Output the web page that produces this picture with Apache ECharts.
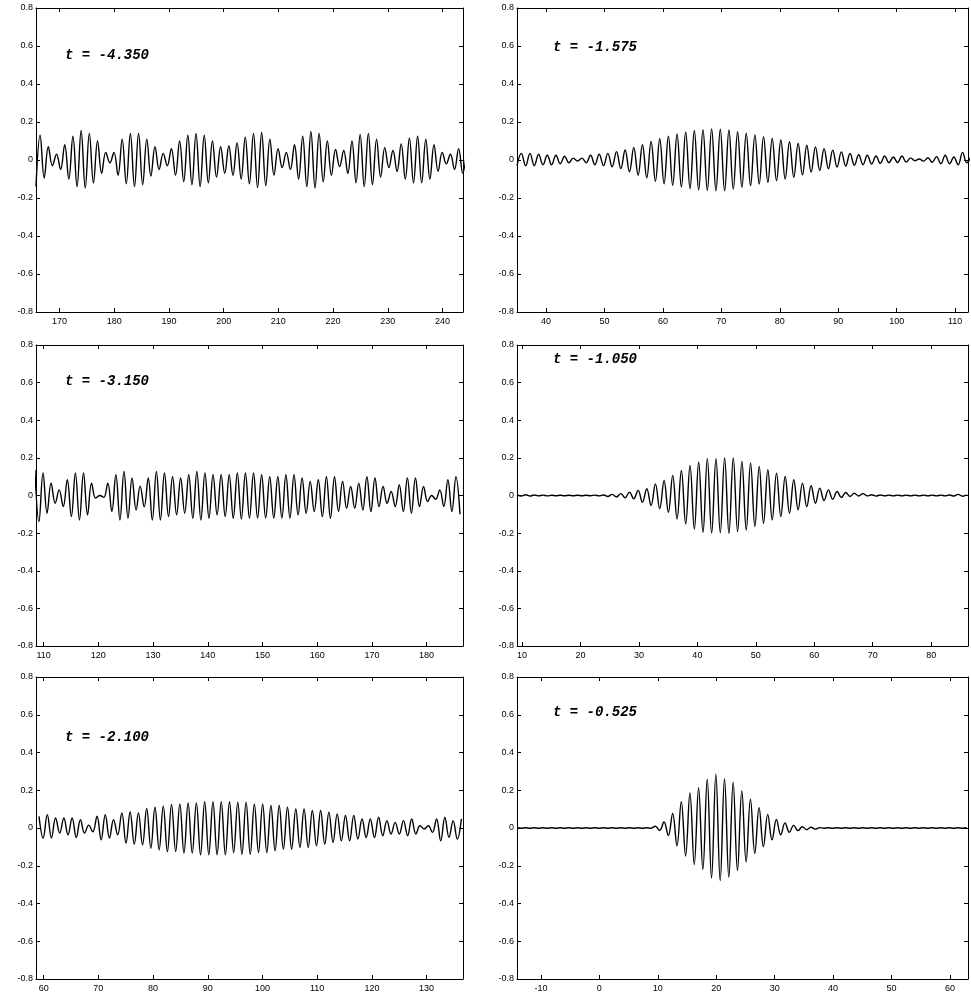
<!DOCTYPE html>
<html><head><meta charset="utf-8">
<script src="https://cdn.jsdelivr.net/npm/echarts@6/dist/echarts.min.js"></script>
<style>html,body{margin:0;padding:0;background:#fff}#c{width:971px;height:993px}</style>
</head><body><div id="c"></div>
<script>
// ---------- tick labels ----------
const yTicks = [-0.8, -0.6, -0.4, -0.2, 0, 0.2, 0.4, 0.6, 0.8];
const yTickLabels = ['-0.8', '-0.6', '-0.4', '-0.2', '0', '0.2', '0.4', '0.6', '0.8'];
const xTicksA = [170, 180, 190, 200, 210, 220, 230, 240];
const xTicksB = [110, 120, 130, 140, 150, 160, 170, 180];
const xTicksC = [60, 70, 80, 90, 100, 110, 120, 130];
const xTicksD = [40, 50, 60, 70, 80, 90, 100, 110];
const xTicksE = [10, 20, 30, 40, 50, 60, 70, 80];
const xTicksF = [-10, 0, 10, 20, 30, 40, 50, 60];

// ---------- panel titles ----------
const titles = ['t = -4.350', 't = -3.150', 't = -2.100', 't = -1.575', 't = -1.050', 't = -0.525'];

// ---------- axis ranges ----------
const xRangeA = [165.7, 243.75];
const xRangeB = [108.6, 186.65];
const xRangeC = [58.6, 136.65];
const xRangeD = [35.04, 112.2];
const xRangeE = [9.14, 86.3];
const xRangeF = [-14.1, 63.1];

// ---------- wave extrema (successive crest / trough values) ----------
const startA = 165.7, stepA = 0.75;
const waveA = [-0.14,0.13,-0.095,0.07,-0.03,0.03,-0.05,0.08,-0.10,0.125,-0.14,0.155,-0.147,0.14,-0.12,0.10,-0.07,0.04,-0.015,0.04,
 -0.08,0.11,-0.125,0.14,-0.14,0.14,-0.13,0.11,-0.085,0.07,-0.05,0.035,-0.03,0.06,-0.08,0.10,-0.115,0.13,-0.13,0.14,
 -0.14,0.13,-0.12,0.10,-0.09,0.07,-0.07,0.075,-0.08,0.09,-0.10,0.12,-0.125,0.14,-0.145,0.145,-0.135,0.11,-0.08,0.06,
 -0.04,0.04,-0.05,0.08,-0.10,0.125,-0.14,0.15,-0.148,0.14,-0.115,0.10,-0.08,0.055,-0.035,0.05,-0.07,0.10,-0.12,0.135,
 -0.14,0.14,-0.13,0.11,-0.09,0.065,-0.04,0.05,-0.06,0.085,-0.10,0.115,-0.12,0.125,-0.12,0.11,-0.10,0.08,-0.06,0.04,
 -0.02,0.03,-0.05,0.06,-0.07,0.07];

const startB = 108.4, stepB = 0.74;
const waveB = [0.137,-0.139,0.12,-0.094,0.066,-0.041,0.03,-0.059,0.084,-0.112,0.12,-0.13,0.12,-0.103,0.066,-0.014,0.0,-0.01,0.066,-0.085,
 0.11,-0.13,0.128,-0.121,0.093,-0.077,0.05,-0.06,0.093,-0.13,0.128,-0.13,0.12,-0.112,0.1,-0.103,0.093,-0.094,0.11,-0.121,
 0.128,-0.13,0.12,-0.121,0.11,-0.103,0.11,-0.112,0.11,-0.121,0.12,-0.125,
 0.12,-0.12,0.12,-0.12,0.11,-0.12,0.10,-0.12,0.10,-0.12,0.11,-0.12,0.11,-0.103,0.093,-0.094,0.075,-0.085,0.084,-0.112,
 0.10,-0.121,0.10,-0.085,0.075,-0.068,0.048,-0.068,0.066,-0.077,0.10,-0.085,0.093,-0.059,0.048,-0.041,0.021,-0.059,0.057,-0.085,
 0.093,-0.094,0.093,-0.059,0.048,-0.032,0.0,-0.02,0.03,-0.059,0.084,-0.085,0.10,-0.10];

const startC = 59.15, stepC = 0.757;
const waveC = [0.062,-0.053,0.071,-0.053,0.053,-0.027,0.053,-0.036,0.053,-0.05,0.044,-0.027,0.015,-0.02,0.062,-0.062,0.071,-0.053,0.044,-0.036,
 0.08,-0.08,0.085,-0.085,0.08,-0.089,0.103,-0.107,0.11,-0.116,0.116,-0.125,0.125,-0.125,0.128,-0.133,0.133,-0.133,0.133,-0.142,
 0.139,-0.142,0.139,-0.142,0.139,-0.142,0.139,
 -0.13,0.137,-0.139,0.137,-0.139,0.128,-0.13,0.128,-0.13,0.119,-0.121,0.119,-0.112,0.11,-0.112,0.101,-0.103,0.101,-0.103,0.093,
 -0.094,0.093,-0.085,0.084,-0.077,0.075,-0.068,0.066,-0.068,0.066,-0.059,0.048,-0.05,0.048,-0.05,0.057,-0.041,0.039,-0.032,0.03,
 -0.032,0.039,-0.041,0.048,-0.032,0.012,-0.005,0.012,-0.023,0.048,-0.068,0.057,-0.05,0.039,-0.059,0.048];

const startD = 35.04, stepD = 0.74;
const waveD = [-0.03,0.035,-0.03,
 0.035,-0.03,0.03,-0.025,0.025,-0.025,0.025,-0.02,0.02,-0.015,0.01,-0.005,0.01,-0.015,0.025,-0.025,0.03,-0.03,0.035,
 -0.036,0.044,-0.045,0.053,-0.062,0.066,-0.08,0.08,-0.094,0.098,-0.112,0.112,-0.125,0.125,-0.133,0.137,-0.142,0.148,-0.151,0.155,-0.157,0.16,-0.16,0.164,
 -0.162,0.162,-0.162,0.158,-0.153,0.149,-0.144,0.141,-0.135,0.132,-0.126,0.123,-0.117,0.114,-0.109,0.105,-0.1,0.096,-0.091,0.087,
 -0.078,0.078,-0.064,0.069,-0.055,0.06,-0.046,0.052,-0.037,0.043,-0.032,0.034,-0.028,0.028,-0.025,0.025,-0.021,0.021,-0.018,0.021,
 -0.014,0.016,-0.014,0.021,-0.011,0.011,-0.004,0.005,-0.006,0.012,-0.012,0.018,-0.02,0.025,-0.02,0.016,-0.025,0.04,-0.015,0.02];

const startE = 9.14, stepE = 0.74;
const waveE = [0.003,-0.003,
 0.004,-0.003,0.003,-0.002,0.002,-0.002,0.001,-0.001,0.001,-0.001,0.001,-0.001,0.001,-0.001,0.001,-0.001,0.002,-0.002,0.003,
 -0.005,0.006,-0.008,0.01,-0.012,
 0.018,-0.018,0.027,-0.036,0.036,-0.053,0.062,-0.071,0.08,-0.089,0.107,-0.125,0.133,-0.151,0.16,-0.178,0.178,-0.196,0.196,-0.2,0.196,
 -0.198,0.2,-0.201,0.2,-0.192,0.181,-0.183,0.173,-0.165,0.155,-0.148,0.137,-0.13,0.119,-0.112,0.101,-0.094,0.084,-0.076,0.066,
 -0.059,0.052,-0.041,0.039,-0.027,0.03,-0.02,0.021,-0.011,0.016,-0.005,0.012,-0.003,0.01,-0.002,
 0.004,-0.003,0.003,-0.002,0.002,-0.002,0.002,-0.002,0.002,-0.002,0.002,-0.002,0.002,-0.002,0.002,-0.002,0.002,-0.002,0.003,-0.003,
 0.006,-0.004,0.004];

const startF = -14.1, stepF = 0.74;
const waveF = [0.001,-0.001,
 0.001,-0.001,0.001,-0.001,0.001,-0.001,0.001,-0.001,0.001,-0.001,0.001,-0.001,0.001,-0.001,0.001,-0.001,0.001,-0.001,0.001,-0.001,
 0.001,-0.001,0.001,-0.001,0.001,-0.001,0.001,-0.001,0.001,-0.001,
 0.009,-0.013,0.032,-0.04,0.077,-0.094,0.14,-0.148,0.186,-0.193,0.213,-0.22,0.258,-0.265,0.285,
 -0.279,0.261,-0.261,0.243,-0.225,0.198,-0.18,0.153,-0.135,0.108,-0.099,0.072,-0.063,0.045,-0.036,0.027,-0.023,0.014,-0.014,0.007,
 -0.009,0.004,-0.006,0.002,
 -0.001,0.001,-0.001,0.001,-0.001,0.001,-0.001,0.001,-0.001,0.001,-0.001,0.001,-0.001,0.001,-0.001,0.001,-0.001,0.001,-0.001,0.001,
 -0.001,0.001,-0.001,0.001,-0.001,0.001,-0.001,0.001,-0.001,0.001,-0.001,0.001,-0.001,0.001];

// ---------- layout ----------
const colLeft = [36, 517];
const colWidth = [427, 451];
const rowTop = [8, 345, 677];
const rowHeight = [304, 301, 302];

const panels = [
  {col: 0, row: 0, range: xRangeA, ticks: xTicksA, start: startA, step: stepA, wave: waveA, tpos: [24, 35]},
  {col: 0, row: 1, range: xRangeB, ticks: xTicksB, start: startB, step: stepB, wave: waveB, tpos: [24, 24]},
  {col: 0, row: 2, range: xRangeC, ticks: xTicksC, start: startC, step: stepC, wave: waveC, tpos: [24, 48]},
  {col: 1, row: 0, range: xRangeD, ticks: xTicksD, start: startD, step: stepD, wave: waveD, tpos: [31, 27]},
  {col: 1, row: 1, range: xRangeE, ticks: xTicksE, start: startE, step: stepE, wave: waveE, tpos: [31, 2]},
  {col: 1, row: 2, range: xRangeF, ticks: xTicksF, start: startF, step: stepF, wave: waveF, tpos: [31, 23]}
];

const lab = {fontSize: 9, color: '#000', fontFamily: 'Liberation Sans'};
const line = {lineStyle: {color: '#000', width: 1}};
const tick = {inside: true, length: 4, lineStyle: {color: '#000', width: 1}};

const option = {animation: false, backgroundColor: '#fff', grid: [], xAxis: [], yAxis: [], series: [], title: []};

panels.forEach((p, i) => {
  option.grid.push({left: colLeft[p.col], top: rowTop[p.row], width: colWidth[p.col], height: rowHeight[p.row], containLabel: false});
  const xBase = {gridIndex: i, type: 'value', min: p.range[0], max: p.range[1],
    axisLine: Object.assign({onZero: false}, line), splitLine: {show: false}};
  option.xAxis.push(Object.assign({}, xBase, {position: 'bottom',
    axisTick: Object.assign({customValues: p.ticks}, tick),
    axisLabel: Object.assign({customValues: p.ticks, margin: 5}, lab)}));
  option.xAxis.push(Object.assign({}, xBase, {position: 'top',
    axisTick: Object.assign({customValues: p.ticks}, tick),
    axisLabel: {show: false}}));
  const yBase = {gridIndex: i, type: 'value', min: -0.8, max: 0.8,
    axisLine: Object.assign({onZero: false}, line), splitLine: {show: false}};
  option.yAxis.push(Object.assign({}, yBase, {position: 'left',
    axisTick: Object.assign({customValues: yTicks}, tick),
    axisLabel: Object.assign({customValues: yTicks, margin: 3,
      formatter: v => yTickLabels[yTicks.findIndex(t => Math.abs(t - v) < 1e-9)]}, lab)}));
  option.yAxis.push(Object.assign({}, yBase, {position: 'right',
    axisTick: Object.assign({customValues: yTicks}, tick),
    axisLabel: {show: false}}));
  option.series.push({type: 'line', xAxisIndex: 2 * i, yAxisIndex: 2 * i,
    data: p.wave.map((v, k) => [p.start + k * p.step, v]),
    showSymbol: false, smooth: 0.4, clip: true,
    lineStyle: {color: '#000', width: 1.4}});
  option.title.push({text: titles[i],
    left: colLeft[p.col] + p.tpos[0], top: rowTop[p.row] + p.tpos[1],
    textStyle: {fontFamily: 'Liberation Mono', fontStyle: 'italic', fontWeight: 'bold', fontSize: 14, color: '#000'}});
});

const chart = echarts.init(document.getElementById('c'), null, {renderer: 'canvas'});
chart.setOption(option);
</script>
</body></html>
